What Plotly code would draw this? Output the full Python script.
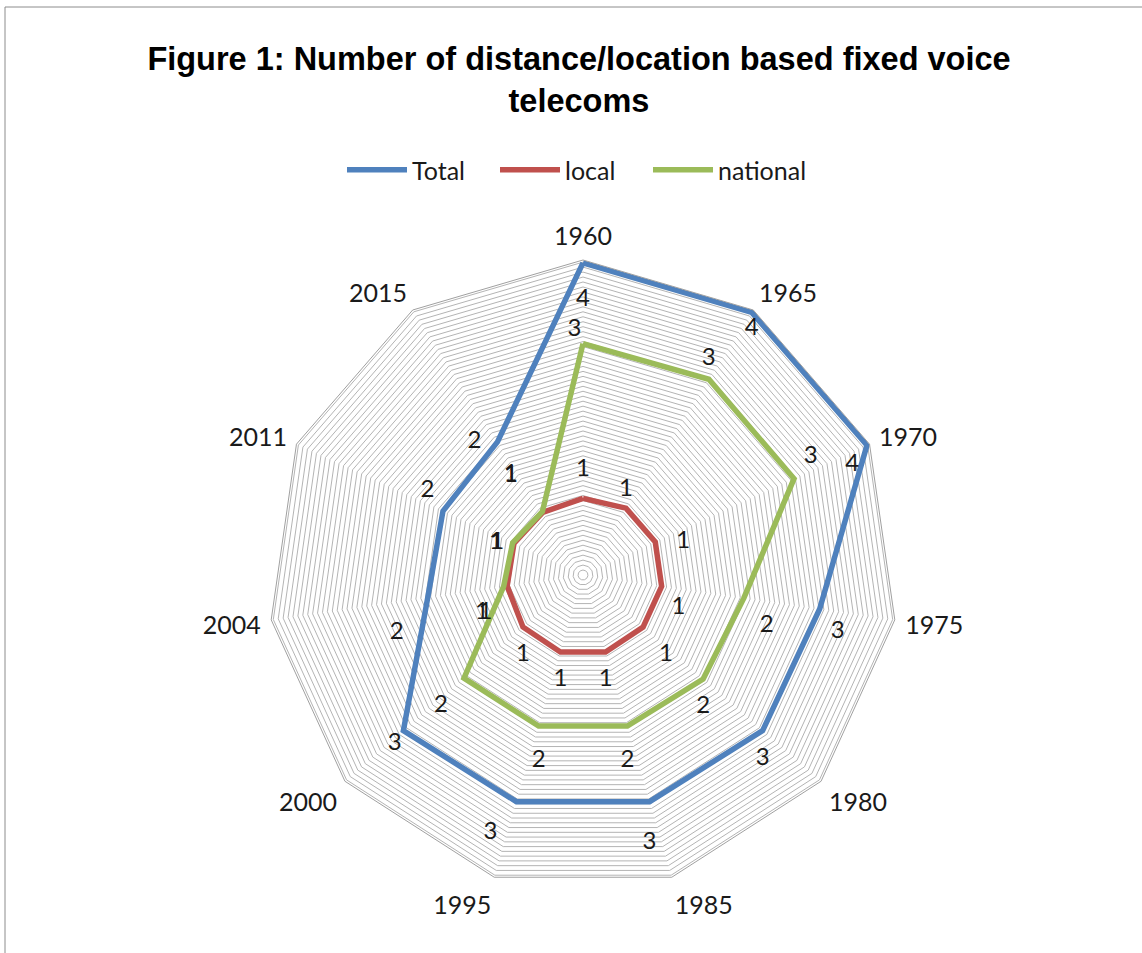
import plotly.graph_objects as go

categories = ['1960', '1965', '1970', '1975', '1980', '1985', '1995', '2000', '2004', '2011', '2015']
total = [4.40, 4.40, 4.40, 3.37, 3.35, 3.33, 3.33, 3.35, 2.21, 2.17, 2.23]
local = [1.08, 1.12, 1.12, 1.12, 1.12, 1.13, 1.13, 1.12, 1.08, 1.07, 1.05]
national = [3.26, 3.28, 3.27, 2.29, 2.24, 2.22, 2.22, 2.22, 1.13, 1.09, 1.06]

series_names = ['Total', 'local', 'national']
colors = ['#4F81BD', '#C0504D', '#9BBB59']

# data-label placement (style only): side and distance from the point
pos_total = ['bottom center', 'bottom center', 'bottom left', 'bottom right', 'bottom center',
             'bottom center', 'bottom left', 'bottom left', 'bottom left', 'top left', 'middle left']
gap_total = [38, 5, 11, 16, 24, 45, 29, 1, 37, 12, 24]
pos_national = ['top left', 'top center', 'top right', 'bottom right', 'bottom center',
                'bottom center', 'bottom center', 'bottom left', 'bottom left', 'middle left', 'top left']
gap_national = [1, 11, 14, 24, 24, 35, 35, 24, 22, 14, 38]
pos_local = ['top center', 'top center', 'middle right', 'bottom right', 'bottom right',
             'bottom center', 'bottom center', 'bottom center', 'bottom left', 'middle left', 'top left']
gap_local = [24, 8, 32, 14, 24, 24, 24, 24, 22, 14, 38]

FONT = 'Lato'
W, H = 1142, 953
cx, cy, R = 583, 575, 315

fig = go.Figure()
legend_ids = ['legend', 'legend2', 'legend3']
for name, vals, col, lg in zip(series_names, [total, local, national], colors, legend_ids):
    fig.add_trace(go.Scatterpolar(
        r=list(vals) + [vals[0]], theta=list(categories) + [categories[0]],
        name=name, mode='lines', line=dict(color=col, width=5.5),
        cliponaxis=False, legend=lg,
    ))

for vals, pos, gap in zip([total, local, national], [pos_total, pos_local, pos_national],
                          [gap_total, gap_local, gap_national]):
    fig.add_trace(go.Scatterpolar(
        r=vals, theta=categories, mode='markers+text', showlegend=False,
        marker=dict(size=gap, opacity=0),
        text=[f"{v:.0f}" for v in vals], textposition=pos,
        textfont=dict(family=FONT, size=24, color='#1a1a1a'),
        cliponaxis=False, hoverinfo='skip',
    ))

legend_style = dict(orientation='h', xanchor='left', yanchor='middle', y=1 - 170 / H,
                    font=dict(family=FONT, size=25, color='#1a1a1a'), itemwidth=60,
                    bgcolor='rgba(0,0,0,0)')

fig.update_layout(
    width=W, height=H,
    margin=dict(l=0, r=0, t=0, b=0),
    paper_bgcolor='white',
    title=dict(text='Figure 1: Number of distance/location based fixed voice<br>telecoms',
               x=579 / W, xanchor='center', y=1 - 70 / H, yanchor='middle',
               font=dict(family='Liberation Sans', size=32.5, color='#000000', weight='bold')),
    legend=dict(x=342 / W, **legend_style),
    legend2=dict(x=495 / W, **legend_style),
    legend3=dict(x=648 / W, **legend_style),
    polar=dict(
        domain=dict(x=[(cx - R) / W, (cx + R) / W], y=[1 - (cy + R) / H, 1 - (cy - R) / H]),
        bgcolor='white',
        gridshape='linear',
        radialaxis=dict(range=[0, 4.44], tick0=0, dtick=0.07, showticklabels=False,
                        ticks='', showline=False, gridcolor='#b4b4b4', gridwidth=1),
        angularaxis=dict(type='category', direction='clockwise', rotation=90,
                         showgrid=False, showline=True, linecolor='#a0a0a0', linewidth=1,
                         ticks='outside', ticklen=5, tickcolor='rgba(0,0,0,0)',
                         tickfont=dict(family=FONT, size=25, color='#1a1a1a')),
    ),
    shapes=[
        dict(type='line', xref='paper', yref='paper', x0=5 / W, x1=1.0, y0=1 - 7 / H, y1=1 - 7 / H,
             line=dict(color='#8c8c8c', width=1)),
        dict(type='line', xref='paper', yref='paper', x0=5 / W, x1=5 / W, y0=0, y1=1 - 7 / H,
             line=dict(color='#8c8c8c', width=1)),
    ],
)

fig.write_html('out.html', config={'displayModeBar': False},
               post_script="document.body.style.margin='0';document.body.style.overflow='hidden';")
